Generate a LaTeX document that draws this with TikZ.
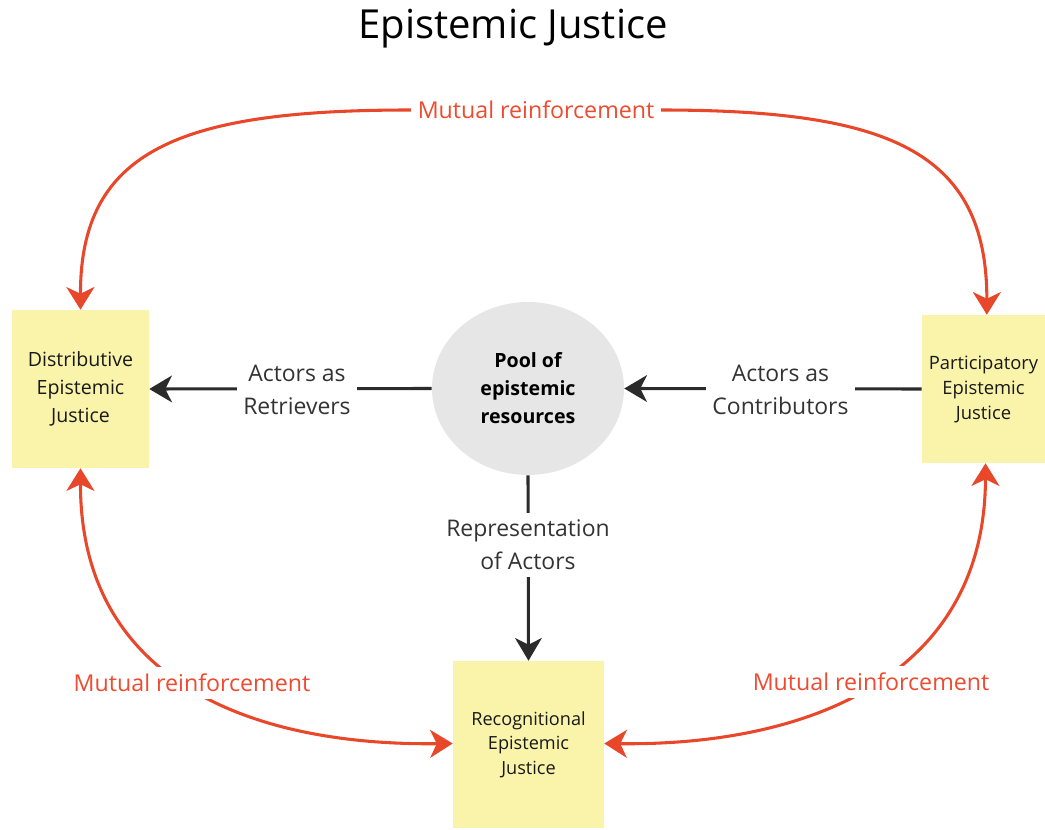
\documentclass[tikz,border=0pt]{standalone}
\usepackage{fontspec}
\setmainfont{Open Sans}
\usetikzlibrary{arrows.meta,shapes.geometric}
\definecolor{boxyellow}{HTML}{FAF3AA}
\definecolor{poolgray}{HTML}{E6E6E6}
\definecolor{redline}{HTML}{E8472A}
\definecolor{redtext}{HTML}{EE4B30}
\definecolor{darkline}{HTML}{2B2B2B}
\definecolor{labeltext}{HTML}{333333}
\tikzset{
  stickybox/.style={fill=boxyellow, draw=none, align=center, text=black!90, inner sep=0pt},
  pool/.style={ellipse, fill=poolgray, draw=none, align=center, inner sep=0pt,
    minimum width=144pt, minimum height=129.75pt,
    font=\fontsize{14.7pt}{21pt}\selectfont\bfseries},
  blackarrow/.style={draw=darkline, line width=2.3pt,
    -{Stealth[length=17pt,width=20pt,inset=5pt]}},
  redarrow/.style={draw=redline, line width=2.3pt,
    {Stealth[length=17pt,width=21pt,inset=5pt]}-{Stealth[length=17pt,width=21pt,inset=5pt]}},
  flowlabel/.style={fill=white, text=labeltext, align=center, inner sep=5pt,
    font=\fontsize{17.2pt}{24.75pt}\selectfont},
  redlabel/.style={fill=white, text=redtext, inner sep=5pt,
    font=\fontsize{17.4pt}{20pt}\selectfont},
}
\begin{document}
\begin{tikzpicture}[x=0.75pt,y=-0.75pt]
\useasboundingbox (0,0) rectangle (1045,830);
% title
\node (title) at (513,28.5) {\fontsize{30pt}{36pt}\selectfont Epistemic Justice};
% boxes
\node[stickybox, minimum width=102.75pt, minimum height=118.5pt,
  font=\fontsize{14.7pt}{21pt}\selectfont] (dist) at (80.5,389)
  {Distributive\\Epistemic\\Justice};
\node[stickybox, minimum width=92.25pt, minimum height=111pt,
  font=\fontsize{13.8pt}{18.75pt}\selectfont] (part) at (983.5,389)
  {Participatory\\Epistemic\\Justice};
\node[stickybox, minimum width=113.25pt, minimum height=125.25pt,
  font=\fontsize{13.6pt}{18.5pt}\selectfont] (recog) at (528.5,744.5)
  {Recognitional\\Epistemic\\Justice};
\node[pool] (pool) at (528,388.5) {Pool of\\epistemic\\resources};
% black connectors
\draw[blackarrow] (pool.west) -- (dist.east);
\node[flowlabel] (retr) at (297,390) {Actors as\\Retrievers};
\draw[blackarrow] (part.west) -- (pool.east);
\node[flowlabel] (contr) at (780.5,390) {Actors as\\Contributors};
\draw[blackarrow] (pool.south) -- (recog.north);
\node[flowlabel] (repr) at (528,545) {Representation\\of Actors};
% red connectors
\coordinate (topL) at (410,110);
\coordinate (topR) at (660,110);
\draw[redarrow] (dist.north) .. controls (80,150) and (180,110) .. (topL)
  -- (topR) .. controls (887,110) and (987,150) .. ([xshift=2.5pt]part.north);
\node[redlabel] (mr1) at (536,110) {Mutual reinforcement};
\draw[redarrow] (dist.south) .. controls (80,680) and (250,746) .. ([yshift=0.75pt]recog.west);
\node[redlabel] (mr2) at (192,683) {Mutual reinforcement};
\draw[redarrow] ([xshift=1.5pt]part.south) .. controls (985,677) and (807,746) .. ([yshift=0.75pt]recog.east);
\node[redlabel] (mr3) at (871,682) {Mutual reinforcement};
\end{tikzpicture}
\end{document}
